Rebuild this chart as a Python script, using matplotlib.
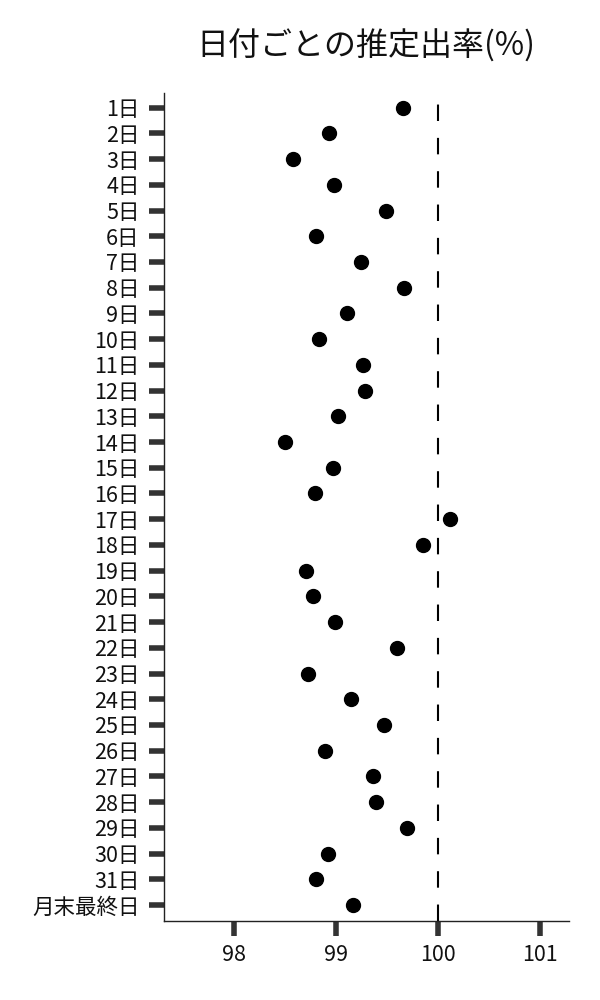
import matplotlib
matplotlib.use("Agg")
import matplotlib.pyplot as plt

plt.rcParams['font.family'] = ['Noto Sans CJK JP', 'DejaVu Sans']

# estimated rate per day
days = [f"{d}日" for d in range(1, 32)] + ["月末最終日"]
rates = [99.65, 98.93, 98.57, 98.98, 99.49, 98.80, 99.24, 99.66, 99.10, 98.83,
         99.26, 99.28, 99.02, 98.50, 98.97, 98.79, 100.11, 99.85, 98.70, 98.77,
         98.99, 99.59, 98.72, 99.14, 99.47, 98.89, 99.36, 99.39, 99.69, 98.92,
         98.80, 99.16]
ref_value = 100
xticks = [98, 99, 100, 101]
title = "日付ごとの推定出率(%)"

fig = plt.figure(figsize=(6, 10), dpi=100)
ax = fig.add_axes([0.2733, 0.079, 0.675, 0.828])

ypos = list(range(len(days)))
ax.plot(rates, ypos, "o", color="black", markersize=10, zorder=3)
# dashed reference line, drawn from the bottom so a dash touches the x axis
ax.plot([ref_value, ref_value], [0, 1], transform=ax.get_xaxis_transform(),
        color="black", linewidth=1.5, linestyle=(0, (7.9, 8.1)),
        solid_capstyle="butt", dash_capstyle="butt", zorder=2)

ax.set_xlim(97.31, 101.28)
ax.set_ylim(31.62, -0.57)
ax.set_yticks(ypos, days)
ax.set_xticks(xticks, [str(t) for t in xticks])

ax.tick_params(axis="both", length=10.5, width=4, color="#333333",
               labelsize=15.5, labelcolor="#111111")
ax.tick_params(axis="y", pad=7)
ax.tick_params(axis="x", pad=6)

ax.spines[['right', 'top']].set_visible(False)
for s in ['left', 'bottom']:
    ax.spines[s].set_linewidth(1.0)
    ax.spines[s].set_color("#222222")

fig.text(0.61, 0.944, title, ha="center", va="baseline", fontsize=23,
         color="#111111")

fig.savefig("out.png", dpi=100)
